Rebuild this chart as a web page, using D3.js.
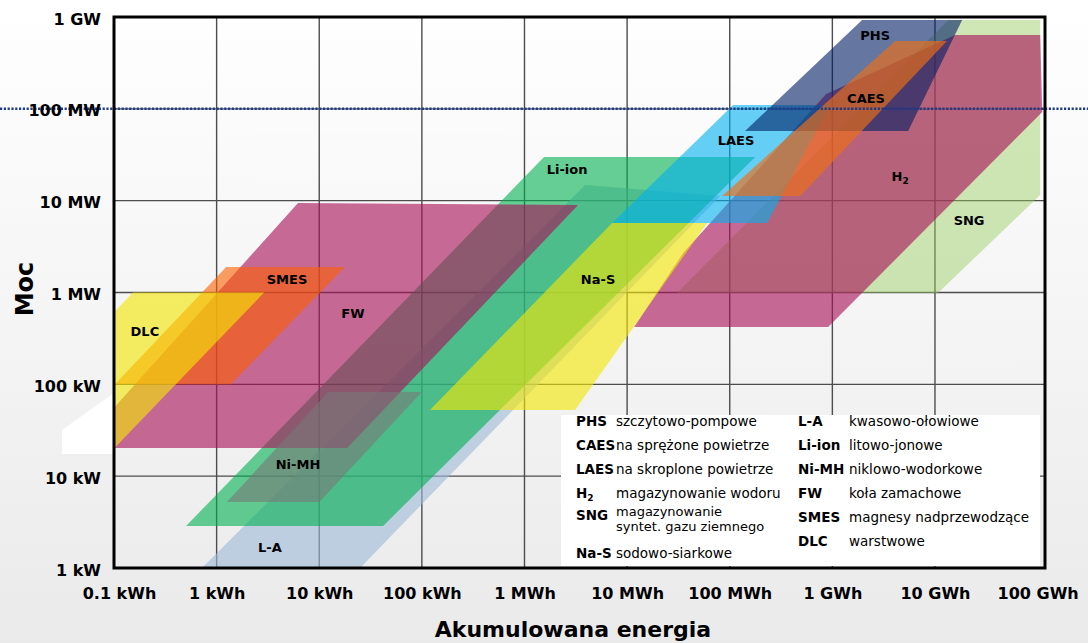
<!DOCTYPE html>
<html><head><meta charset="utf-8">
<script src="https://cdn.jsdelivr.net/npm/d3@7"></script>
<style>body{margin:0;background:#fff;} svg{display:block;font-family:"DejaVu Sans",sans-serif;}</style>
</head><body><svg id="c" width="1088" height="643"></svg>
<script>
// ---------- DATA ----------
const energyTicks = [0.1, 1, 10, 100, 1e3, 1e4, 1e5, 1e6, 1e7, 1e8]; // kWh
const energyTickLabels = ["0.1 kWh","1 kWh","10 kWh","100 kWh","1 MWh","10 MWh","100 MWh","1 GWh","10 GWh","100 GWh"];
const powerTicks = [1, 10, 100, 1e3, 1e4, 1e5, 1e6]; // kW
const powerTickLabels = ["1 kW","10 kW","100 kW","1 MW","10 MW","100 MW","1 GW"];
const referencePower = 1e5; // dotted reference line at 100 MW

// technology regions, vertices as [energy kWh, power kW]
const technologies = ["SNG","H2","L-A","Li-ion","FW","Ni-MH","SMES","DLC","Na-S","LAES","PHS","CAES"];
const regionSNG   = [[30700,990],[1.07e7,990],[1.06e8,11500],[1.06e8,929000],[1.35e7,929000]];
const regionH2    = [[11700,421],[35200,2690],[8.7e5,145000],[1.57e7,637000],[1.06e8,637000],[1.11e8,92400],[9.1e5,421]];
const regionLA    = [[0.72,1],[25,1],[774,52.6],[80500,11250],[3900,14800]];
const regionLiIon = [[0.504,2.87],[41.9,2.87],[177000,29900],[1550,29900]];
const regionFW    = [[0.0446,20.3],[18.7,20.3],[3330,8970],[6.21,9440]];
const regionNiMH  = [[1.26,5.23],[10,5.23],[100,82.6],[12.2,82.6]];
const regionSMES  = [[0.102,100],[1.38,100],[17.8,1900],[1.24,1900]];
const regionDLC   = [[0.0041,15],[0.078,15],[2.9,1000],[0.153,1000]];
const regionNaS   = [[120,52.6],[3110,52.6],[60200,5710],[7140,5710]];
const regionLAES  = [[7140,5710],[2.32e5,5710],[9.5e5,110000],[1.08e5,110000]];
const regionPHS   = [[1.41e5,57400],[5.48e6,57400],[1.84e7,929000],[1.95e6,929000]];
const regionCAES  = [[84300,11250],[4.85e5,11250],[1.31e7,548000],[4.09e6,548000]];
const offPlotPatch = [[0.0311,31.8],[0.1,80.5],[0.1,17.4],[0.0311,17.4]];

// label anchors [energy kWh, power kW]
const labelNames  = ["PHS","CAES","LAES","Li-ion","H2","SNG","Na-S","SMES","FW","DLC","Ni-MH","L-A"];
const labelEnergy = [2.61e6, 2.13e6, 1.15e5, 2600, 4.58e6, 2.15e7, 5210, 4.85, 21.3, 0.2, 6.21, 3.31];
const labelPower  = [637000, 131000, 45800, 22100, 18600, 6160, 1400, 1400, 598, 381, 13.6, 1.69];

// legend
const legendLeftAbbr  = ["PHS","CAES","LAES","H2","SNG","Na-S"];
const legendLeftDesc  = [["szczytowo-pompowe"],["na sprężone powietrze"],["na skroplone powietrze"],["magazynowanie wodoru"],["magazynowanie","syntet. gazu ziemnego"],["sodowo-siarkowe"]];
const legendRightAbbr = ["L-A","Li-ion","Ni-MH","FW","SMES","DLC"];
const legendRightDesc = ["kwasowo-ołowiowe","litowo-jonowe","niklowo-wodorkowe","koła zamachowe","magnesy nadprzewodzące","warstwowe"];

const xTitle = "Akumulowana energia";
const yTitle = "Moc";

// ---------- STYLE / LAYOUT ----------
const regionData = {"SNG":regionSNG,"H2":regionH2,"L-A":regionLA,"Li-ion":regionLiIon,"FW":regionFW,"Ni-MH":regionNiMH,
  "SMES":regionSMES,"DLC":regionDLC,"Na-S":regionNaS,"LAES":regionLAES,"PHS":regionPHS,"CAES":regionCAES};
const regionStyle = {
  "SNG":["rgb(150,205,90)",0.45], "H2":["rgb(168,18,89)",0.62], "L-A":["rgb(155,185,215)",0.6],
  "Li-ion":["rgb(0,176,80)",0.6], "FW":["rgb(168,18,89)",0.62], "Ni-MH":["rgb(120,120,120)",0.6],
  "SMES":["rgb(253,95,0)",0.6], "DLC":["rgb(242,231,5)",0.62], "Na-S":["rgb(242,231,5)",0.62],
  "LAES":["rgb(0,176,240)",0.6], "PHS":["rgb(0,30,100)",0.6], "CAES":["rgb(240,110,20)",0.65]
};
const L = 114, T = 17, R = 1045, B = 568;

const svg = d3.select("#c");
const defs = svg.append("defs");
const grad = defs.append("linearGradient").attr("id","bg").attr("x1",0).attr("y1",0).attr("x2",0).attr("y2",1);
grad.append("stop").attr("offset",0).attr("stop-color","#ffffff");
grad.append("stop").attr("offset",1).attr("stop-color","#eaeaea");
defs.append("clipPath").attr("id","plotclip").append("rect").attr("x",L).attr("y",T).attr("width",R-L).attr("height",B-T);

svg.append("rect").attr("width",1088).attr("height",643).attr("fill","url(#bg)");

const x = d3.scaleLog().domain([0.1, 1e8]).range([L, 1037.6]);
const y = d3.scaleLog().domain([1, 1e6]).range([B, T]);
const line = d3.line().x(d => x(d[0])).y(d => y(d[1]));

// off-plot white patch
svg.append("path").attr("d", line(offPlotPatch) + "Z").attr("fill","#ffffff");

// grid
const grid = svg.append("g");
grid.selectAll("line.v").data(energyTicks.slice(1, energyTicks.length - 1)).join("line")
  .attr("x1", d => x(d)).attr("x2", d => x(d)).attr("y1", T).attr("y2", B)
  .attr("stroke","#4d4d4d").attr("stroke-width",1.4);
grid.selectAll("line.h").data(powerTicks.slice(1, powerTicks.length - 1)).join("line")
  .attr("y1", d => y(d)).attr("y2", d => y(d)).attr("x1", L).attr("x2", R)
  .attr("stroke","#4d4d4d").attr("stroke-width",1.4);

// regions
const regionsG = svg.append("g").attr("clip-path","url(#plotclip)");
regionsG.selectAll("path").data(technologies).join("path")
  .attr("d", k => line(regionData[k]) + "Z")
  .attr("fill", k => regionStyle[k][0])
  .attr("fill-opacity", k => regionStyle[k][1]);

// legend box
const lg = svg.append("g");
lg.append("rect").attr("x",561).attr("y",415).attr("width",479).attr("height",151).attr("fill","#ffffff");
const leftRowsY = [426, 450, 474, 498, 520, 558];
const rightRowsY = [426, 450, 474, 498, 522, 546];
legendLeftAbbr.forEach((a, i) => {
  const t = lg.append("text").attr("x",576).attr("y",leftRowsY[i]).attr("font-weight","bold").attr("font-size",13.5).attr("fill","#000");
  if (a === "H2") { t.append("tspan").text("H"); t.append("tspan").attr("font-size",9).attr("dy",3).text("2"); }
  else t.text(a);
  const lines = legendLeftDesc[i];
  lines.forEach((s, j) => {
    const yy = lines.length > 1 ? leftRowsY[i] - 4 + j*15 : leftRowsY[i];
    lg.append("text").attr("x",616).attr("y",yy).attr("font-size",lines.length > 1 ? 13 : 13.5).attr("fill","#000").text(s);
  });
});
legendRightAbbr.forEach((a, i) => {
  lg.append("text").attr("x",798).attr("y",rightRowsY[i]).attr("font-weight","bold").attr("font-size",13.5).attr("fill","#000").text(a);
  lg.append("text").attr("x",849).attr("y",rightRowsY[i]).attr("font-size",13.5).attr("fill","#000").text(legendRightDesc[i]);
});

// reference dotted line (full width)
svg.append("line").attr("x1",0).attr("x2",1088).attr("y1",y(referencePower)).attr("y2",y(referencePower))
  .attr("stroke","#1f3c88").attr("stroke-width",2.5).attr("stroke-dasharray","2.2,1.6");

// frame
svg.append("rect").attr("x",L).attr("y",T).attr("width",R-L).attr("height",B-T)
  .attr("fill","none").attr("stroke","#000").attr("stroke-width",3);

// region labels
const lbl = svg.append("g").attr("font-weight","bold").attr("font-size",13).attr("fill","#000").attr("text-anchor","middle");
labelNames.forEach((n, i) => {
  const t = lbl.append("text").attr("x", x(labelEnergy[i])).attr("y", y(labelPower[i])).attr("dy","0.36em");
  if (n === "H2") { t.append("tspan").text("H"); t.append("tspan").attr("font-size",9).attr("dy",3).text("2"); }
  else t.text(n);
});

// axes
const xAxis = d3.axisBottom(x).tickValues(energyTicks).tickFormat((d, i) => energyTickLabels[i]).tickSize(0);
const gx = svg.append("g").attr("transform",`translate(0,${B})`).call(xAxis);
gx.select(".domain").remove();
gx.selectAll("text").attr("y",31).attr("dy",0).attr("font-size",16).attr("font-weight","bold")
  .attr("font-family","DejaVu Sans").attr("fill","#000")
  .attr("dx", (d, i) => i === 0 ? 5 : 0);

const yAxis = d3.axisLeft(y).tickValues(powerTicks).tickFormat((d, i) => powerTickLabels[i]).tickSize(0);
const gy = svg.append("g").attr("transform",`translate(${L},0)`).call(yAxis);
gy.select(".domain").remove();
gy.selectAll("text").attr("x",-13).attr("dy",7).attr("font-size",16).attr("font-weight","bold")
  .attr("font-family","DejaVu Sans").attr("fill","#000");

// titles
svg.append("text").attr("x",573).attr("y",637).attr("text-anchor","middle").attr("font-weight","bold")
  .attr("font-size",22).attr("fill","#000").text(xTitle);
svg.append("text").attr("transform","translate(33,289) rotate(-90)").attr("text-anchor","middle").attr("font-weight","bold")
  .attr("font-size",24).attr("fill","#000").text(yTitle);
</script></body></html>
